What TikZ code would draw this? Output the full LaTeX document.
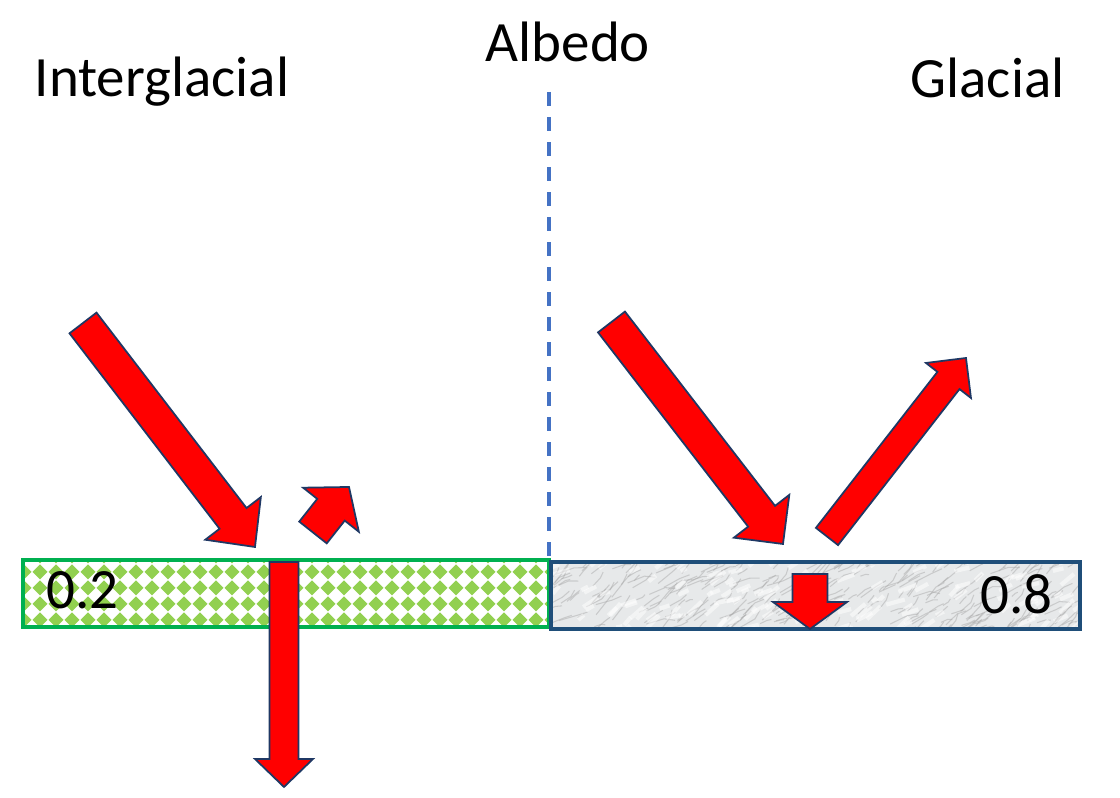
\documentclass[tikz,border=0pt]{standalone}
\usepackage{fontspec}
\setmainfont{Carlito}
\usetikzlibrary{calc}
\definecolor{arrowred}{HTML}{FF0000}
\definecolor{arrowline}{HTML}{1F3864}
\definecolor{dashblue}{HTML}{4472C4}
\definecolor{greenline}{HTML}{00B050}
\definecolor{greenpat}{HTML}{92D050}
\definecolor{iceline}{HTML}{1F4E79}
\definecolor{icebase}{HTML}{E7E9EA}
% #1 tail, #2 tip, #3 shaft half width, #4 head half width, #5 head length
\newcommand\redarrow[5]{%
  \coordinate (hb) at ($(#2)!#5!(#1)$);
  \filldraw[blockarrow] ($(#1)!#3!90:(#2)$) -- ($(hb)!#3!-90:(#1)$) -- ($(hb)!#4!-90:(#1)$) -- (#2)
     -- ($(hb)!#4!90:(#1)$) -- ($(hb)!#3!90:(#1)$) -- ($(#1)!#3!-90:(#2)$) -- cycle;
}
\begin{document}
\begin{tikzpicture}[x=0.01cm,y=-0.01cm,
  lbl/.style={inner sep=0pt, anchor=base west, font=\fontsize{16.2pt}{19pt}\selectfont},
  blockarrow/.style={fill=arrowred, draw=arrowline, line width=0.5pt, line join=miter},
  divider/.style={draw=dashblue, line width=0.04cm, dash pattern=on 0.14cm off 0.11cm},
  landbar/.style={draw=greenline, line width=0.04cm},
  icebar/.style={draw=iceline, line width=0.04cm},
  streak/.style={line width=0.3pt, opacity=0.45}]
\useasboundingbox (0,0) rectangle (1120,798);

% labels
\node[lbl] (inter) at (34,97) {Interglacial};
\node[lbl] (albedo) at (485,62) {Albedo};
\node[lbl] (glacial) at (910,98) {Glacial};

% divider
\coordinate (dtop) at (549,92);
\coordinate (dbot) at (549,558);
\draw[divider] (dtop) -- (dbot);

% interglacial land bar with diamond pattern
\coordinate (gA) at (23,560);
\coordinate (gB) at (549,627);
\begin{scope}
  \clip (gA) rectangle (gB);
  \fill[white] (gA) rectangle (gB);
  \foreach \i in {0,...,33}{
    \foreach \j in {0,...,5}{
      \fill[greenpat] ({24+16*\i-7.5},{556+16*\j}) -- ({24+16*\i},{556+16*\j-7.5})
        -- ({24+16*\i+7.5},{556+16*\j}) -- ({24+16*\i},{556+16*\j+7.5}) -- cycle;
    }
  }
\end{scope}
\draw[landbar] (gA) rectangle (gB);

% glacial ice bar with marble texture
\coordinate (iA) at (551,562);
\coordinate (iB) at (1080,629);
\begin{scope}
  \clip (iA) rectangle (iB);
  \fill[icebase] (iA) rectangle (iB);
  \pgfmathsetseed{4}
  \foreach \k in {1,...,320}{
    \pgfmathsetmacro\xx{545+540*rnd}
    \pgfmathsetmacro\yy{560+72*rnd}
    \pgfmathsetmacro\ll{4+16*rnd}
    \pgfmathsetmacro\aa{-55+40*rnd}
    \draw[streak, gray!70] (\xx,\yy) -- ++(\aa:\ll) -- ++({\aa+60*rnd-30}:{\ll*0.6});
  }
  \foreach \k in {1,...,140}{
    \pgfmathsetmacro\xx{545+540*rnd}
    \pgfmathsetmacro\yy{560+72*rnd}
    \pgfmathsetmacro\ll{6+14*rnd}
    \pgfmathsetmacro\aa{-50+40*rnd}
    \draw[line width=1.2pt, white, opacity=0.5] (\xx,\yy) -- ++(\aa:\ll);
  }
\end{scope}
\draw[icebar] (iA) rectangle (iB);

% values
\node[lbl] (v02) at (46,609) {0.2};
\node[lbl] (v08) at (980,614) {0.8};

% arrows, interglacial side
\coordinate (a1t) at (83,323);   \coordinate (a1p) at (255,547);
\coordinate (a2t) at (313,532.5); \coordinate (a2p) at (349,487);
\coordinate (a3t) at (284,562);  \coordinate (a3p) at (284,787);
\redarrow{a1t}{a1p}{0.17cm}{0.35cm}{0.36cm}
\redarrow{a2t}{a2p}{0.175cm}{0.355cm}{0.29cm}
\redarrow{a3t}{a3p}{0.145cm}{0.29cm}{0.28cm}

% arrows, glacial side
\coordinate (a4t) at (611.5,322); \coordinate (a4p) at (783,544);
\coordinate (a5t) at (827,536.5); \coordinate (a5p) at (966,358);
\coordinate (a6t) at (810,574);  \coordinate (a6p) at (810,629);
\redarrow{a4t}{a4p}{0.17cm}{0.35cm}{0.35cm}
\redarrow{a5t}{a5p}{0.14cm}{0.285cm}{0.285cm}
\redarrow{a6t}{a6p}{0.175cm}{0.37cm}{0.27cm}
\end{tikzpicture}
\end{document}
